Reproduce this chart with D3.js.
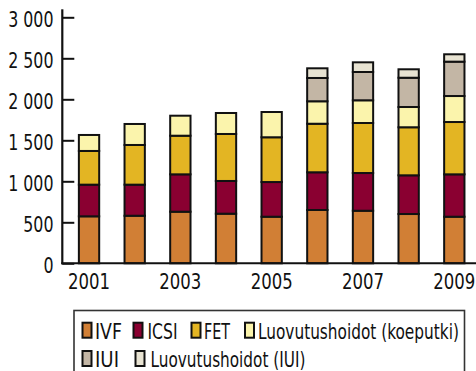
<!DOCTYPE html>
<html>
<head>
<meta charset="utf-8">
<script src="https://cdn.jsdelivr.net/npm/d3@7"></script>
<style>
  html, body { margin: 0; padding: 0; background: #fff; }
  svg { display: block; }
  text { font-family: "Liberation Sans Narrow", "DejaVu Sans Condensed", "Liberation Sans", sans-serif; fill: #111; }
</style>
</head>
<body>
<svg id="chart" width="476" height="371"></svg>
<script>
// ---- data ----
const years = ["2001","2002","2003","2004","2005","2006","2007","2008","2009"];
const yearLabels = ["2001","2003","2005","2007","2009"];
const seriesNames = ["IVF","ICSI","FET","Luovutushoidot (koeputki)","IUI","Luovutushoidot (IUI)"];
const ivf      = [573, 580, 629, 605, 568, 650, 641, 601, 568];
const icsi     = [386, 379, 456, 399, 423, 460, 460, 472, 517];
const fet      = [411, 484, 471, 573, 546, 592, 610, 586, 638];
const luovKoe  = [195, 256, 244, 256, 308, 274, 277, 247, 317];
const iui      = [0,   0,   0,   0,   0,   284, 345, 357, 419];
const luovIui  = [0,   0,   0,   0,   0,   118, 118, 103, 90];
const yTicks   = [0, 500, 1000, 1500, 2000, 2500, 3000];
const colors   = ["#D17F35", "#8A0031", "#E3B523", "#FBF4AC", "#C3B6A5", "#E8E3D2"];

const seriesValues = [ivf, icsi, fet, luovKoe, iui, luovIui];
const table = years.map((y, i) => {
  const row = { year: y };
  seriesNames.forEach((s, k) => row[s] = seriesValues[k][i]);
  return row;
});

// ---- layout ----
const svg = d3.select("#chart");
const axisX = 62.3, baseY = 263.3, topY = 17.3;

// draw a horizontally condensed text (emulates a condensed face)
function condText(parent, str, px, py, anchor, size, kOrWidth, isWidth) {
  const t = parent.append("text")
    .attr("x", 0).attr("y", 0)
    .attr("font-size", size)
    .attr("text-anchor", anchor)
    .text(str);
  const w = t.node().getComputedTextLength();
  const k = isWidth ? kOrWidth / w : kOrWidth;
  t.attr("transform", `translate(${px},${py}) scale(${k},1)`);
  return t;
}

const x = d3.scaleBand()
  .domain(years)
  .range([66.2, 66.2 + 9 * 45.66])
  .paddingInner(0.555)
  .paddingOuter(0.2775);

const y = d3.scaleLinear().domain([0, 3000]).range([baseY, topY]);

const stack = d3.stack().keys(seriesNames)(table);

// bars
const g = svg.append("g");
stack.forEach((layer, k) => {
  g.selectAll(null)
    .data(layer.filter(d => d[1] - d[0] > 0))
    .enter().append("rect")
    .attr("x", d => x(d.data.year))
    .attr("width", x.bandwidth())
    .attr("y", d => y(d[1]))
    .attr("height", d => y(d[0]) - y(d[1]))
    .attr("fill", colors[k])
    .attr("stroke", "#111")
    .attr("stroke-width", 2);
});

// y axis
const fmt = v => d3.format(",")(v).replace(/,/g, " ");
const yAxis = d3.axisRight(y).tickValues(yTicks).tickSize(12).tickFormat("");
const ya = svg.append("g").attr("transform", `translate(${axisX},0)`).call(yAxis);
ya.select(".domain").remove();
ya.selectAll(".tick line").attr("stroke", "#111").attr("stroke-width", 2);
svg.append("line")
  .attr("x1", axisX).attr("x2", axisX)
  .attr("y1", 9.3).attr("y2", baseY + 1)
  .attr("stroke", "#111").attr("stroke-width", 2.2);
const ylg = svg.append("g");
yTicks.forEach(v => condText(ylg, fmt(v), 53.5, y(v) + 9.3, "end", 22, 0.80, false));

// x axis
const xAxis = d3.axisBottom(x).tickValues(yearLabels).tickSize(0).tickPadding(0);
const xa = svg.append("g").attr("transform", `translate(0,${baseY})`).call(xAxis);
xa.select(".domain").remove();
xa.selectAll(".tick text").remove();
svg.append("line")
  .attr("x1", axisX - 1).attr("x2", 476)
  .attr("y1", baseY).attr("y2", baseY)
  .attr("stroke", "#111").attr("stroke-width", 2);
const xlg = svg.append("g");
yearLabels.forEach(d => condText(xlg, d, x(d) + x.bandwidth() / 2, 289, "middle", 22, 0.835, false));

// legend
svg.append("rect")
  .attr("x", 74).attr("y", 310.5)
  .attr("width", 390.5).attr("height", 80)
  .attr("fill", "#fff").attr("stroke", "#333").attr("stroke-width", 1.6);
const legendPos = [
  { sx: 82.5,  tx: 95,    w: 27,  row: 0 },
  { sx: 133.5, tx: 147.5, w: 30,  row: 0 },
  { sx: 191.5, tx: 204,   w: 26,  row: 0 },
  { sx: 245,   tx: 258,   w: 201, row: 0 },
  { sx: 82.5,  tx: 95,    w: 24,  row: 1 },
  { sx: 135.5, tx: 150.5, w: 155, row: 1 }
];
const rowTop = [322.7, 351];
const rowBase = [338.5, 366.8];
const lg = svg.append("g");
seriesNames.forEach((s, k) => {
  const p = legendPos[k];
  lg.append("rect")
    .attr("x", p.sx).attr("y", rowTop[p.row])
    .attr("width", 9).attr("height", 15)
    .attr("fill", colors[k]).attr("stroke", "#111").attr("stroke-width", 2);
  condText(lg, s, p.tx, rowBase[p.row], "start", 22, p.w, true);
});
</script>
</body>
</html>
